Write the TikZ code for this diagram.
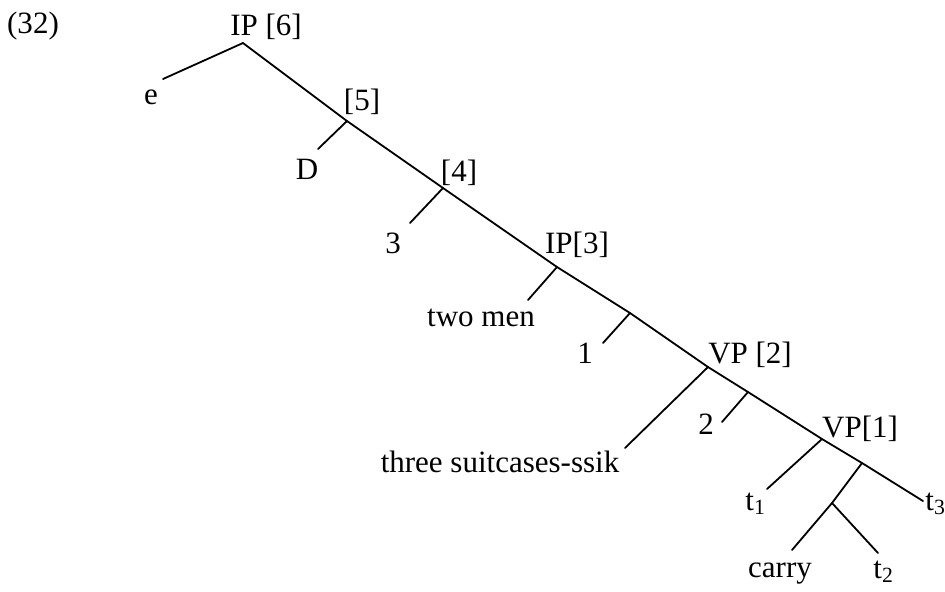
\documentclass[tikz,border=0pt]{standalone}
\usepackage{fontspec}
\setmainfont{Liberation Serif}
\usepackage{tikz}

\begin{document}
\begin{tikzpicture}[
  x=0.5pt,
  y=-0.5pt,
  lbl/.style={
    inner sep=0pt,
    anchor=base,
    font=\fontsize{15.5}{18}\selectfont
  },
  lblw/.style={
    lbl,
    anchor=base west
  },
  branch/.style={
    line width=0.9pt,
    line cap=round
  }
]
\useasboundingbox (0,0) rectangle (945,591);

% Example number
\node[lbl] (num) at (33,33) {(32)};

% Spine junctions
\coordinate (ip6) at (243,43);
\coordinate (n5) at (347,121);
\coordinate (n4) at (443,188);
\coordinate (ip3) at (557,267);
\coordinate (n1) at (630,313);
\coordinate (vp2) at (708,367);
\coordinate (n2) at (748,392);
\coordinate (vp1) at (822,439);
\coordinate (nv) at (862,463);
\coordinate (nvv) at (832,503);

% Free ends of the branches
\coordinate (eEnd) at (163,79);
\coordinate (dEnd) at (318,149);
\coordinate (threeEnd) at (410,223);
\coordinate (menEnd) at (528,300);
\coordinate (oneEnd) at (603,343);
\coordinate (caseEnd) at (625,448);
\coordinate (twoEnd) at (722,422);
\coordinate (tOneEnd) at (767,489);
\coordinate (tThreeEnd) at (923,501);
\coordinate (carryEnd) at (792,550);
\coordinate (tTwoEnd) at (878,553);

% Labels
\node[lbl] (lip6) at (266,35) {IP [6]};
\node[lbl] (le) at (151,104) {e};
\node[lbl] (l5) at (362,110) {[5]};
\node[lbl] (lD) at (307,179) {D};
\node[lbl] (l4) at (459,181) {[4]};
\node[lbl] (l3) at (393,253) {3};
\node[lbl] (lip3) at (577,253) {IP[3]};
\node[lbl] (lmen) at (481,326) {two men};
\node[lbl] (l1) at (585,363) {1};
\node[lbl] (lvp2) at (750,363) {VP [2]};
\node[lbl] (l2) at (706,434) {2};
\node[lbl] (lvp1) at (860,437) {VP[1]};
\node[lbl] (lcase) at (500,472) {three suitcases-ssik};
\node[lblw] (lt1) at (745,510) {t\textsubscript{1}};
\node[lblw] (lt3) at (925,510) {t\textsubscript{3}};
\node[lbl] (lcarry) at (780,577) {carry};
\node[lblw] (lt2) at (873,578) {t\textsubscript{2}};

% Main spine
\draw[branch] (ip6) -- (n5) -- (n4) -- (ip3) -- (n1) -- (vp2) -- (n2) -- (vp1) -- (nv) -- (tThreeEnd);

% Left branches
\draw[branch] (ip6) -- (eEnd);
\draw[branch] (n5) -- (dEnd);
\draw[branch] (n4) -- (threeEnd);
\draw[branch] (ip3) -- (menEnd);
\draw[branch] (n1) -- (oneEnd);
\draw[branch] (vp2) -- (caseEnd);
\draw[branch] (n2) -- (twoEnd);
\draw[branch] (vp1) -- (tOneEnd);

% Verb and its trace
\draw[branch] (nv) -- (nvv);
\draw[branch] (nvv) -- (carryEnd);
\draw[branch] (nvv) -- (tTwoEnd);

\end{tikzpicture}
\end{document}
